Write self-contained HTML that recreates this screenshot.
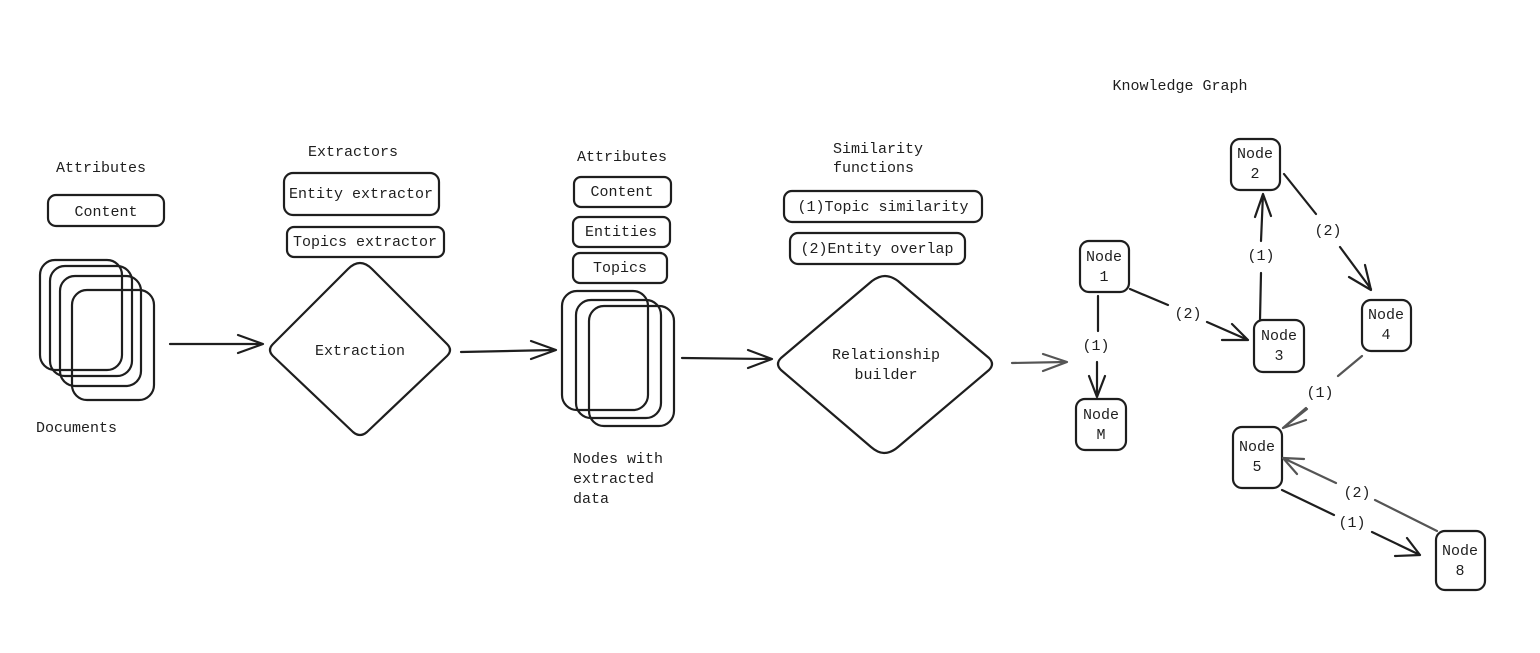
<!DOCTYPE html>
<html><head><meta charset="utf-8"><style>
html,body{margin:0;padding:0;background:#fff;}
svg{display:block;}
text{font-family:"Liberation Mono","DejaVu Sans Mono",monospace;font-size:15px;fill:#1e1e1e;}
.s{fill:none;stroke:#1e1e1e;stroke-width:2.2;stroke-linecap:round;stroke-linejoin:round;}
.g{fill:none;stroke:#555;stroke-width:2.2;stroke-linecap:round;stroke-linejoin:round;}
</style></head><body>
<svg width="1540" height="653" viewBox="0 0 1540 653" xmlns="http://www.w3.org/2000/svg">
<rect width="1540" height="653" fill="#fff"/>
<text x="101" y="172" text-anchor="middle">Attributes</text>
<rect class="s" x="48" y="195" width="116" height="31" rx="8"/>
<text x="106" y="216" text-anchor="middle">Content</text>
<rect class="s" x="40" y="260" width="82" height="110" rx="15"/>
<rect class="s" x="50" y="266" width="82" height="110" rx="15"/>
<rect class="s" x="60" y="276" width="81" height="110" rx="15"/>
<rect class="s" x="72" y="290" width="82" height="110" rx="15"/>
<text x="36" y="432">Documents</text>
<path class="s" d="M170 344 L261 344 M238 335 L263 344 L238 353"/>
<text x="353" y="156" text-anchor="middle">Extractors</text>
<rect class="s" x="284" y="173" width="155" height="42" rx="9"/>
<text x="361" y="198" text-anchor="middle">Entity extractor</text>
<rect class="s" x="287" y="227" width="157" height="30" rx="7"/>
<text x="365" y="246" text-anchor="middle">Topics extractor</text>
<path class="s" d="M360 263 Q366 263 372 269 L447 344 Q453 350 447 356 L367 432 Q360 438 353 432 L273 356 Q267 350 273 344 L348 269 Q354 263 360 263 Z"/>
<text x="360" y="355" text-anchor="middle">Extraction</text>
<path class="s" d="M461 352 L554 350 M531 341 L556 350 L531 359"/>
<text x="622" y="161" text-anchor="middle">Attributes</text>
<rect class="s" x="574" y="177" width="97" height="30" rx="7"/>
<text x="622" y="196" text-anchor="middle">Content</text>
<rect class="s" x="573" y="217" width="97" height="30" rx="7"/>
<text x="621" y="236" text-anchor="middle">Entities</text>
<rect class="s" x="573" y="253" width="94" height="30" rx="7"/>
<text x="620" y="272" text-anchor="middle">Topics</text>
<rect class="s" x="562" y="291" width="86" height="119" rx="15"/>
<rect class="s" x="576" y="300" width="85" height="118" rx="15"/>
<rect class="s" x="589" y="306" width="85" height="120" rx="15"/>
<text x="573" y="463">Nodes with</text>
<text x="573" y="483">extracted</text>
<text x="573" y="503">data</text>
<path class="s" d="M682 358 L770 359 M748 350 L772 359 L748 368"/>
<text x="833" y="153">Similarity</text>
<text x="833" y="172">functions</text>
<rect class="s" x="784" y="191" width="198" height="31" rx="8"/>
<text x="883" y="211" text-anchor="middle">(1)Topic similarity</text>
<rect class="s" x="790" y="233" width="175" height="31" rx="8"/>
<text x="877" y="253" text-anchor="middle">(2)Entity overlap</text>
<path class="s" d="M885 276 Q891 276 898 281 L989 358 Q995 364 989 370 L898 447 Q891 453 884 453 Q878 453 871 447 L781 370 Q775 364 781 358 L872 281 Q879 276 885 276 Z"/>
<text x="886" y="359" text-anchor="middle">Relationship</text>
<text x="886" y="379" text-anchor="middle">builder</text>
<path class="g" d="M1012 363 L1065 362 M1043 354 L1067 362 L1043 371"/>
<text x="1180" y="90" text-anchor="middle">Knowledge Graph</text>
<g>
<rect class="s" x="1080" y="241" width="49" height="51" rx="9"/>
<text x="1104" y="261" text-anchor="middle">Node</text><text x="1104" y="281" text-anchor="middle">1</text>
<rect class="s" x="1231" y="139" width="49" height="51" rx="9"/>
<text x="1255" y="158" text-anchor="middle">Node</text><text x="1255" y="178" text-anchor="middle">2</text>
<rect class="s" x="1254" y="320" width="50" height="52" rx="9"/>
<text x="1279" y="340" text-anchor="middle">Node</text><text x="1279" y="360" text-anchor="middle">3</text>
<rect class="s" x="1362" y="300" width="49" height="51" rx="9"/>
<text x="1386" y="319" text-anchor="middle">Node</text><text x="1386" y="339" text-anchor="middle">4</text>
<rect class="s" x="1076" y="399" width="50" height="51" rx="9"/>
<text x="1101" y="419" text-anchor="middle">Node</text><text x="1101" y="439" text-anchor="middle">M</text>
<rect class="s" x="1233" y="427" width="49" height="61" rx="9"/>
<text x="1257" y="451" text-anchor="middle">Node</text><text x="1257" y="471" text-anchor="middle">5</text>
<rect class="s" x="1436" y="531" width="49" height="59" rx="9"/>
<text x="1460" y="555" text-anchor="middle">Node</text><text x="1460" y="575" text-anchor="middle">8</text>
</g>
<path class="s" d="M1098 296 L1098 331 M1097 362 L1097 396 M1089 376 L1097 397 L1105 376"/>
<text x="1096" y="350" text-anchor="middle">(1)</text>
<path class="s" d="M1130 289 L1168 305 M1207 322 L1248 340 M1222 340 L1248 340 L1232 324"/>
<text x="1188" y="318" text-anchor="middle">(2)</text>
<path class="s" d="M1260 320 L1261 273 M1261 241 L1263 194 M1255 217 L1263 194 L1271 216"/>
<text x="1261" y="260" text-anchor="middle">(1)</text>
<path class="s" d="M1284 174 L1316 214 M1340 247 L1371 289 M1349 277 L1371 290 L1365 265"/>
<text x="1328" y="235" text-anchor="middle">(2)</text>
<path class="g" d="M1362 356 L1338 376 M1306 408 L1283 428 M1307 409 L1283 428 M1306 420 L1283 428"/>
<text x="1320" y="397" text-anchor="middle">(1)</text>
<path class="g" d="M1437 531 L1375 500 M1336 483 L1283 458 M1304 459 L1283 458 M1297 474 L1283 458"/>
<text x="1357" y="497" text-anchor="middle">(2)</text>
<path class="s" d="M1282 490 L1334 515 M1372 532 L1420 555 M1395 556 L1420 555 L1407 538"/>
<text x="1352" y="527" text-anchor="middle">(1)</text>
</svg>
</body></html>
